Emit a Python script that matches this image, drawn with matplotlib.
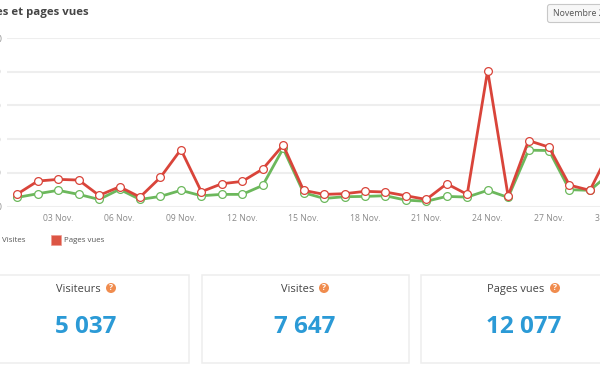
import matplotlib
matplotlib.use("Agg")
import matplotlib.pyplot as plt
from matplotlib.patches import Rectangle, FancyBboxPatch, Circle

plt.rcParams['font.family'] = ['Open Sans', 'DejaVu Sans']

# valeurs
jours = list(range(1, 31))
visites = [55, 77, 97, 73, 43, 103, 43, 61, 97, 65, 73, 73, 126, 345, 83,
           49, 59, 61, 65, 39, 32, 61, 57, 97, 55, 335, 333, 101, 97, 199]
pages_vues = [75, 152, 162, 158, 67, 118, 57, 174, 339, 89, 136, 150, 223, 365, 97,
              73, 77, 91, 87, 65, 43, 136, 73, 807, 63, 392, 353, 128, 97, 337]
jours_ticks = [3, 6, 9, 12, 15, 18, 21, 24, 27, 30]
labels_x = ['03 Nov.', '06 Nov.', '09 Nov.', '12 Nov.', '15 Nov.',
            '18 Nov.', '21 Nov.', '24 Nov.', '27 Nov.', '30 Nov.']
ticks_y = [0, 200, 400, 600, 800, 1000]
labels_y = ['0', '200', '400', '600', '800', '1 000']

cartes = ['Visiteurs', 'Visites', 'Pages vues']
totaux = ['5 037', '7 647', '12 077']

ROUGE = '#d9443a'
VERT = '#6cb85c'
BLEU = '#2b9ad6'
ORANGE = '#f08c4e'
W, H = 600, 372

fig = plt.figure(figsize=(6, 3.72), dpi=100)

# calque en pixels pour le titre, la legende et les cartes
fond = fig.add_axes([0, 0, 1, 1])
fond.set_xlim(0, W)
fond.set_ylim(H, 0)
fond.axis('off')

# graphique (depasse volontairement a droite, comme la capture)
gauche, droite, haut, bas = 7, 640, 38, 206.7
ax = fig.add_axes([gauche / W, 1 - bas / H, (droite - gauche) / W, (bas - haut) / H])
ax.patch.set_alpha(0)
ax.plot(jours, visites, color=VERT, lw=2.0, marker='o', ms=5.6, mfc='white', mec=VERT,
        mew=0.9, clip_on=False, label='Visites')
ax.plot(jours, pages_vues, color=ROUGE, lw=2.0, marker='o', ms=5.6, mfc='white', mec=ROUGE,
        mew=0.9, clip_on=False, label='Pages vues')
ax.set_xlim(1 - 10.3 / 20.45, 1 + (droite - 17.3) / 20.45)
ax.set_ylim(0, 1000)
ax.set_xticks(jours_ticks)
ax.set_xticklabels(labels_x)
ax.set_yticks(ticks_y)
ax.set_yticklabels(labels_y)
ax.tick_params(length=0, labelsize=6.2, labelcolor='#8a8a8a')
ax.tick_params(axis='x', pad=5.5)
ax.tick_params(axis='y', pad=4)
ax.grid(axis='y', color='#eeeeee', lw=1.5)
ax.set_axisbelow(True)
for s in ax.spines.values():
    s.set_visible(False)

# titre et bouton
fond.text(89, 15.5, 'Visites et pages vues', ha='right', va='baseline', fontsize=8.2,
          fontweight='bold', color='#444444')
fond.add_patch(FancyBboxPatch((547.5, 4.5), 80, 18, boxstyle='round,pad=0,rounding_size=2.5',
                              fc='#f7f7f7', ec='#c8c8c8', lw=0.8))
fond.text(553, 13.5, 'Novembre 2014', ha='left', va='center', fontsize=6.3, color='#555555')

# legende
fond.text(2, 240, 'Visites', ha='left', va='center', fontsize=5.7, color='#555555')
fond.add_patch(Rectangle((51, 234.5), 10, 10.5, fc='#dc5544', ec='#ee9a90', lw=0.5))
fond.text(64, 240, 'Pages vues', ha='left', va='center', fontsize=5.7, color='#555555')

# cartes du bas
bords = [(-20, 189), (202, 408.5), (421, 640)]
x_titres = [78, 297.5, 516]
x_icones = [111, 324, 555]
x_totaux = [86, 305, 524]
for i in range(3):
    fond.add_patch(Rectangle((bords[i][0], 275), bords[i][1] - bords[i][0], 88,
                             fc='white', ec='#eeeeee', lw=1.1))
    fond.text(x_titres[i], 292, cartes[i], ha='center', va='baseline', fontsize=7.9, color='#444444')
    fond.add_patch(Circle((x_icones[i], 288), 5, fc=ORANGE, ec='none'))
    fond.text(x_icones[i], 288, '?', ha='center', va='center', fontsize=6, fontweight='bold', color='white')
    fond.text(x_totaux[i], 333, totaux[i], ha='center', va='baseline', fontsize=17.5,
              fontweight='bold', color=BLEU)

fig.savefig('out.png', dpi=100)
